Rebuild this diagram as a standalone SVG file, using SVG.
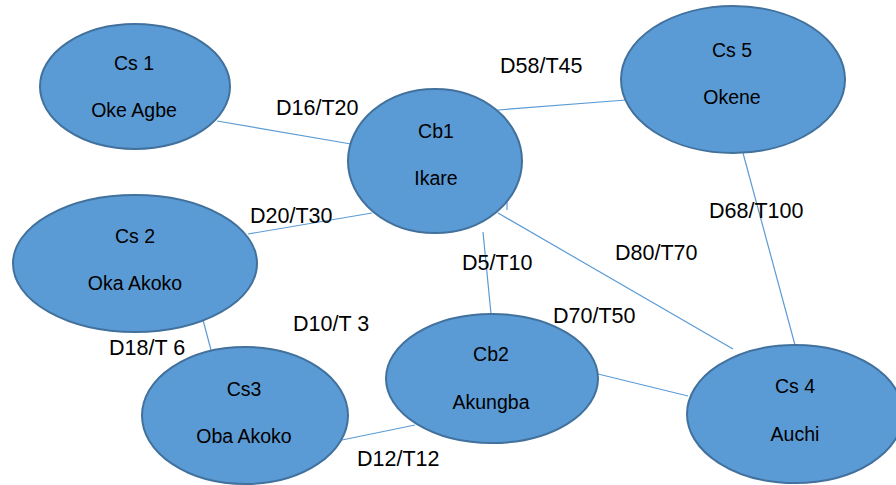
<svg xmlns="http://www.w3.org/2000/svg" width="896" height="485" viewBox="0 0 896 485">
<style>
.node{fill:#5B9BD5;stroke:#41719C;stroke-width:2}
.nt{font-family:"Liberation Sans",Arial,sans-serif;font-size:19.5px;fill:#000;text-anchor:middle}
.el{font-family:"Liberation Sans",Arial,sans-serif;font-size:21.5px;fill:#000}
.edge{stroke:#5B9BD5;stroke-width:1.2;fill:none}
</style>
<rect width="896" height="485" fill="#fff"/>
<g id="connectors">
<line class="edge" x1="217" y1="121" x2="351" y2="144"/>
<line class="edge" x1="248" y1="234" x2="372" y2="213"/>
<line class="edge" x1="498" y1="110" x2="626" y2="100"/>
<line class="edge" x1="743" y1="153" x2="795" y2="345"/>
<line class="edge" x1="498" y1="213" x2="733" y2="349"/>
<line class="edge" x1="507" y1="200" x2="507" y2="210"/>
<line class="edge" x1="483" y1="232" x2="491" y2="314"/>
<line class="edge" x1="598" y1="374" x2="688" y2="396"/>
<line class="edge" x1="203" y1="320" x2="211" y2="350"/>
<line class="edge" x1="342" y1="440" x2="415" y2="425"/>
</g>
<g id="edge-labels">
<text class="el" x="276" y="115">D16/T20</text>
<text class="el" x="250" y="223">D20/T30</text>
<text class="el" x="500" y="73">D58/T45</text>
<text class="el" x="709" y="218">D68/T100</text>
<text class="el" x="615" y="260">D80/T70</text>
<text class="el" x="462" y="270">D5/T10</text>
<text class="el" x="553" y="323">D70/T50</text>
<text class="el" x="293" y="331">D10/T 3</text>
<text class="el" x="109" y="355">D18/T 6</text>
<text class="el" x="357" y="466">D12/T12</text>
</g>
<g id="cs1">
<ellipse class="node" cx="135" cy="86.5" rx="95" ry="62.5"/>
<text class="nt" x="134" y="70">Cs 1</text>
<text class="nt" x="134" y="117">Oke Agbe</text>
</g>
<g id="cb1">
<ellipse class="node" cx="435" cy="161" rx="87" ry="72"/>
<text class="nt" x="436" y="138">Cb1</text>
<text class="nt" x="436" y="185">Ikare</text>
</g>
<g id="cs5">
<ellipse class="node" cx="733" cy="79.5" rx="112" ry="73.5"/>
<text class="nt" x="732" y="57">Cs 5</text>
<text class="nt" x="732" y="104">Okene</text>
</g>
<g id="cs2">
<ellipse class="node" cx="135" cy="263.5" rx="122" ry="68.5"/>
<text class="nt" x="135" y="243">Cs 2</text>
<text class="nt" x="135" y="290">Oka Akoko</text>
</g>
<g id="cs3">
<ellipse class="node" cx="245" cy="415.5" rx="103" ry="68.5"/>
<text class="nt" x="244" y="396">Cs3</text>
<text class="nt" x="244" y="443">Oba Akoko</text>
</g>
<g id="cb2">
<ellipse class="node" cx="492" cy="378.5" rx="106" ry="64.5"/>
<text class="nt" x="491" y="361">Cb2</text>
<text class="nt" x="491" y="409">Akungba</text>
</g>
<g id="cs4">
<ellipse class="node" cx="795" cy="414" rx="108" ry="69"/>
<text class="nt" x="795" y="393">Cs 4</text>
<text class="nt" x="795" y="441">Auchi</text>
</g>
</svg>
